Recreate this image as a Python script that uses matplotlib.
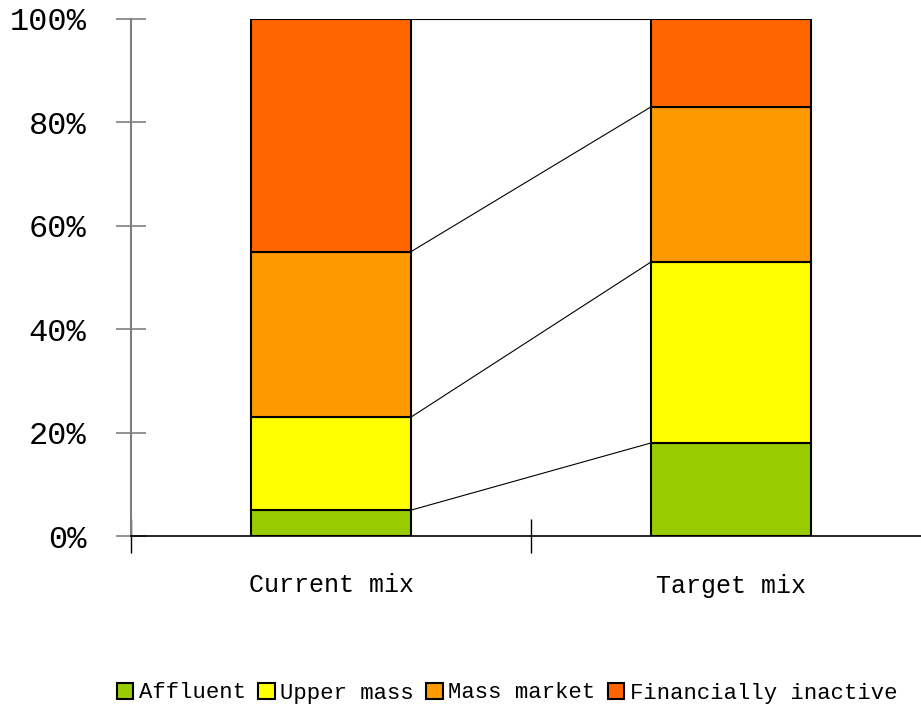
import numpy as np
import matplotlib.pyplot as plt

categories = ["Current mix", "Target mix"]
segments = ["Affluent", "Upper mass", "Mass market", "Financially inactive"]
current = [5, 18, 32, 45]
target = [18, 35, 30, 17]
colors = ["#99CC00", "#FFFF00", "#FF9900", "#FF6600"]

fig = plt.figure(figsize=(9.21, 7.08), dpi=100)
ax = fig.add_axes([131 / 921, 1 - 536 / 708, 800 / 921, (536 - 19) / 708])

x = np.arange(len(categories))
width = 0.4
values = np.array([current, target])
bottoms = np.zeros(len(categories))
handles = []
for i, seg in enumerate(segments):
    h = ax.bar(x, values[:, i], width, bottom=bottoms, color=colors[i],
               edgecolor="black", linewidth=1.5, label=seg, zorder=3)
    handles.append(h)
    bottoms = bottoms + values[:, i]

# connector lines between cumulative tops
cum_cur = np.cumsum(current)
cum_tar = np.cumsum(target)
for a, b in zip(cum_cur, cum_tar):
    ax.plot([x[0] + width / 2, x[1] - width / 2], [a, b], color="black",
            linewidth=0.8, zorder=2)

ax.set_xlim(-0.5, 1.5)
ax.set_ylim(0, 100)
ax.set_yticks(np.arange(0, 101, 20))
ax.set_yticklabels([f"{v}%" for v in range(0, 101, 20)],
                   fontfamily="Liberation Mono", fontsize=23)
ax.tick_params(axis="y", direction="inout", length=22, width=1.2,
               color="gray", pad=21)

ax.set_xticks(x)
ax.set_xticklabels(categories, fontfamily="Liberation Mono", fontsize=18)
ax.tick_params(axis="x", which="major", length=0, pad=27)
ax.set_xticks([-0.5, 0.5], minor=True)
ax.tick_params(axis="x", which="minor", direction="inout", length=24,
               width=1, color="black")

for s in ["top", "right"]:
    ax.spines[s].set_visible(False)
ax.spines["left"].set_color("gray")
ax.spines["left"].set_linewidth(1.5)
ax.spines["bottom"].set_color("black")
ax.spines["bottom"].set_linewidth(1.2)

fig.legend(handles=handles, labels=segments, loc="center",
           bbox_to_anchor=(507 / 921, 1 - 693 / 708), ncol=4, frameon=False,
           prop={"family": "Liberation Mono", "size": 16},
           handlelength=0.75, handleheight=0.75, handletextpad=0.25,
           columnspacing=0.55)

fig.savefig("out.png", dpi=100)
